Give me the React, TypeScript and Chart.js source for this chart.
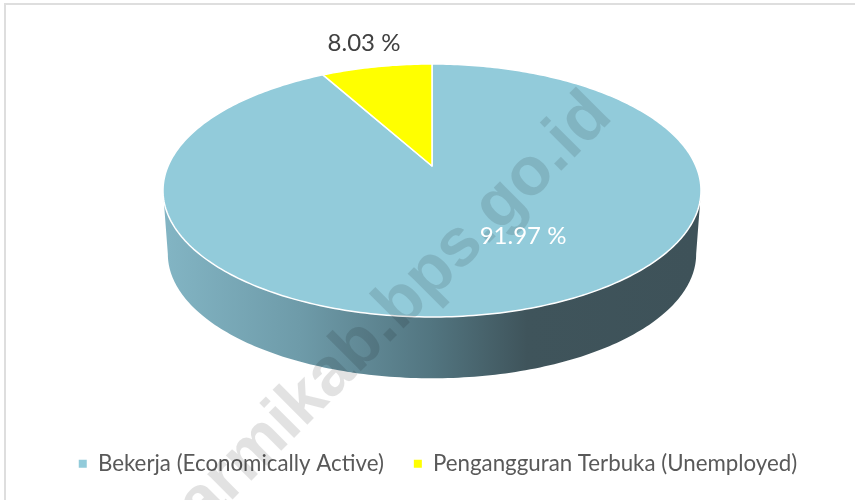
import React, { useEffect, useRef } from "react";
import { Chart, registerables } from "chart.js";

Chart.register(...registerables);

const categories = ["Bekerja (Economically Active)", "Pengangguran Terbuka (Unemployed)"];
const shares = [91.97, 8.03];
const sliceColors = ["#92CBDA", "#FFFF00"];
const valueLabels = ["91.97 %", "8.03 %"];
const watermark = "sarmikab.bps.go.id";

const FONT = "Lato";
const CX = 432;
const CY = 166;
const BX = 263.9;
const BY = 121.75;
const PERSP = -0.1937;

function project(theta: number, k = 1, dy = 0) {
  const u = Math.cos(theta);
  const v = Math.sin(theta);
  const w = 1 + PERSP * v;
  return { x: CX + (k * BX * u) / w, y: CY + dy + (k * BY * v) / w };
}

function tracePath(ctx: CanvasRenderingContext2D, a0: number, a1: number, k = 1, dy = 0, move = false) {
  const n = Math.max(8, Math.ceil(Math.abs(a1 - a0) * 60));
  for (let i = 0; i <= n; i++) {
    const p = project(a0 + ((a1 - a0) * i) / n, k, dy);
    if (i === 0 && move) ctx.moveTo(p.x, p.y);
    else ctx.lineTo(p.x, p.y);
  }
}

const pie3d = {
  id: "pie3d",
  beforeDraw(chart: any) {
    const { ctx, width, height } = chart;
    ctx.save();
    ctx.fillStyle = "#ffffff";
    ctx.fillRect(0, 0, width, height);
    ctx.strokeStyle = "#dedede";
    ctx.lineWidth = 2;
    ctx.strokeRect(5, 4, width + 20, height + 20);
    ctx.restore();
  },
  beforeDatasetDraw(chart: any) {
    const ctx: CanvasRenderingContext2D = chart.ctx;
    const arcs = chart.getDatasetMeta(0).data;
    ctx.save();
    // side wall
    const g = ctx.createLinearGradient(168, 0, 696, 0);
    g.addColorStop(0, "#82B4C3");
    g.addColorStop(0.25, "#6E9BA9");
    g.addColorStop(0.5, "#527580");
    g.addColorStop(0.68, "#3F545B");
    g.addColorStop(1, "#3E5259");
    ctx.beginPath();
    const tilt = Math.asin(-PERSP);
    tracePath(ctx, Math.PI - tilt, tilt, 1, 0, true);
    tracePath(ctx, tilt, Math.PI - tilt, 0.982, 64);
    ctx.closePath();
    ctx.fillStyle = g;
    ctx.fill();
    // top faces
    arcs.forEach((arc: any, i: number) => {
      ctx.beginPath();
      ctx.moveTo(CX, CY);
      tracePath(ctx, arc.startAngle, arc.endAngle);
      ctx.closePath();
      ctx.fillStyle = sliceColors[i];
      ctx.fill();
      ctx.strokeStyle = "#ffffff";
      ctx.lineWidth = 1.5;
      ctx.lineJoin = "round";
      ctx.stroke();
    });
    ctx.restore();
    return false;
  },
  afterDatasetsDraw(chart: any) {
    const ctx: CanvasRenderingContext2D = chart.ctx;
    ctx.save();
    ctx.translate(614, 118);
    ctx.rotate((-45 * Math.PI) / 180);
    ctx.font = "bold 68px 'Liberation Sans'";
    ctx.textAlign = "right";
    ctx.textBaseline = "alphabetic";
    ctx.fillStyle = "rgba(0,0,0,0.115)";
    ctx.fillText(watermark, 0, 0);
    ctx.restore();

    ctx.save();
    ctx.font = `24px ${FONT}`;
    ctx.textAlign = "center";
    ctx.textBaseline = "middle";
    ctx.fillStyle = "#ffffff";
    ctx.fillText(valueLabels[0], 523, 236);
    ctx.fillStyle = "#404040";
    ctx.fillText(valueLabels[1], 364, 43);
    ctx.restore();
  },
};

export default function App() {
  const ref = useRef<HTMLCanvasElement>(null);
  useEffect(() => {
    document.body.style.margin = "0";
    const chart = new Chart(ref.current!, {
      type: "pie",
      data: {
        labels: categories,
        datasets: [{ data: shares, backgroundColor: sliceColors, borderWidth: 0 }],
      },
      options: {
        animation: false,
        responsive: false,
        layout: { padding: { left: 21, bottom: 15 } },
        plugins: {
          tooltip: { enabled: false },
          title: { display: false },
          legend: {
            position: "bottom",
            labels: {
              boxWidth: 8,
              boxHeight: 8,
              padding: 30,
              color: "#595959",
              font: { family: FONT, size: 22.3 },
            },
          },
        },
      },
      plugins: [pie3d],
    } as any);
    return () => chart.destroy();
  }, []);
  return <canvas ref={ref} width={855} height={500} style={{ display: "block" }} />;
}
